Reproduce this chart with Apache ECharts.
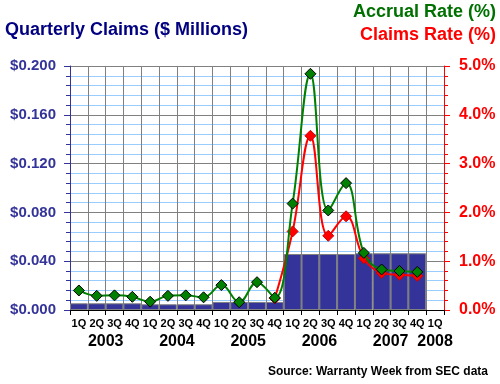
<!DOCTYPE html>
<html>
<head>
<meta charset="utf-8">
<script src="https://cdn.jsdelivr.net/npm/echarts@6/dist/echarts.min.js"></script>
<style>html,body{margin:0;padding:0;background:#fff}#c{width:500px;height:384px}</style>
</head>
<body>
<div id="c"></div>
<script>
const quarters = ['1Q','2Q','3Q','4Q','1Q','2Q','3Q','4Q','1Q','2Q','3Q','4Q','1Q','2Q','3Q','4Q','1Q','2Q','3Q','4Q','1Q'];
const years = ['2003','2003','2003','2003','2004','2004','2004','2004','2005','2005','2005','2005','2006','2006','2006','2006','2007','2007','2007','2007','2008'];
const claims = [0.0055,0.0055,0.0055,0.0055,0.0047,0.0047,0.0047,0.0047,0.0066,0.0066,0.0066,0.0066,0.0459,0.0459,0.0459,0.0459,0.0465,0.0465,0.0465,0.0465,null];
const accrualRate = [0.40,0.29,0.30,0.27,0.17,0.29,0.30,0.26,0.51,0.16,0.57,0.25,2.18,4.84,2.04,2.60,1.17,0.83,0.80,0.78,null];
const claimsRate = [null,null,null,null,null,null,null,null,null,null,null,0.24,1.61,3.57,1.52,1.92,1.06,0.76,0.72,0.70,null];
const leftTicks = {min:0, max:0.2, interval:0.04};
const rightTicks = {min:0, max:5, interval:1};

const cats = quarters.map((q,i)=>q+' '+years[i]);
const FONT = 'Arial, "Liberation Sans", sans-serif';
const chart = echarts.init(document.getElementById('c'), null, {renderer:'canvas'});
chart.setOption({
  animation:false,
  backgroundColor:'#fff',
  title:[
    {text:'Quarterly Claims ($ Millions)', left:5, top:21, padding:0, textStyle:{color:'#000080', fontSize:18, fontWeight:'bold', fontFamily:FONT}},
    {text:'Accrual Rate (%)', right:4, top:3, padding:0, textStyle:{color:'#007000', fontSize:18, fontWeight:'bold', fontFamily:FONT}},
    {text:'Claims Rate (%)', right:4, top:26, padding:0, textStyle:{color:'#ff0000', fontSize:18, fontWeight:'bold', fontFamily:FONT}},
    {text:'Source: Warranty Week from SEC data', right:12, top:366, padding:0, textStyle:{color:'#000', fontSize:12, fontWeight:'bold', fontFamily:FONT}}
  ],
  grid:{left:70, right:56, top:66, bottom:74, containLabel:false},
  xAxis:[
    {type:'category', data:cats, boundaryGap:true,
     axisLine:{show:true, lineStyle:{color:'#000', width:1}},
     axisTick:{show:true, length:5, lineStyle:{color:'#000'}},
     axisLabel:{interval:0, margin:8, color:'#000', fontSize:11, fontWeight:'bold', fontFamily:FONT,
       formatter:(v)=>v.split(' ')[0]},
     splitLine:{show:true, interval:0, lineStyle:{color:'#808080', width:1}}},
    {type:'category', data:cats, boundaryGap:true, position:'bottom',
     axisLine:{show:false}, axisTick:{show:false}, splitLine:{show:false},
     axisLabel:{interval:0, margin:24, color:'#000', fontSize:16, fontWeight:'bold', fontFamily:FONT,
       formatter:(v,i)=>{
         const y=v.split(' ')[1];
         if(i===cats.length-1) return '{n|'+y+'}';
         if(i%4===1) return '{s|'+y+'}';
         return '';
       },
       rich:{s:{padding:[0,0,0,18], fontSize:16, fontWeight:'bold', fontFamily:FONT, color:'#000'},
             n:{fontSize:16, fontWeight:'bold', fontFamily:FONT, color:'#000'}}}}
  ],
  yAxis:[
    {type:'value', min:leftTicks.min, max:leftTicks.max, interval:leftTicks.interval, position:'left',
     axisLine:{show:true, lineStyle:{color:'#333399'}},
     axisTick:{show:true, length:6, lineStyle:{color:'#333399'}},
     minorTick:{show:true, splitNumber:5, length:4, lineStyle:{color:'#333399'}},
     axisLabel:{margin:14, color:'#333399', fontSize:15, fontWeight:'bold', fontFamily:FONT,
       formatter:(v)=>'$'+v.toFixed(3)},
     splitLine:{show:true, lineStyle:{color:'#808080', width:1}},
     minorSplitLine:{show:true, lineStyle:{color:'#99ccff', width:1}}},
    {type:'value', min:rightTicks.min, max:rightTicks.max, interval:rightTicks.interval, position:'right',
     axisLine:{show:true, lineStyle:{color:'#ff0000'}},
     axisTick:{show:true, length:6, lineStyle:{color:'#ff0000'}},
     minorTick:{show:true, splitNumber:5, length:4, lineStyle:{color:'#ff0000'}},
     axisLabel:{margin:15, color:'#ff0000', fontSize:16, fontWeight:'bold', fontFamily:FONT,
       formatter:(v)=>v.toFixed(1)+'%'},
     splitLine:{show:false}}
  ],
  series:[
    {type:'bar', data:claims, xAxisIndex:0, yAxisIndex:0, barCategoryGap:'0%', barGap:'0%',
     itemStyle:{color:'#333399', borderColor:'#808080', borderWidth:1}, z:2},
    {type:'line', data:claimsRate, xAxisIndex:0, yAxisIndex:1, smooth:0.4, connectNulls:false,
     symbol:'diamond', symbolSize:11, showSymbol:true,
     lineStyle:{color:'#ff0000', width:2},
     itemStyle:{color:'#ff0000', borderColor:'#cc0000', borderWidth:1}, z:3},
    {type:'line', data:accrualRate, xAxisIndex:0, yAxisIndex:1, smooth:0.4,
     symbol:'diamond', symbolSize:11, showSymbol:true,
     lineStyle:{color:'#008000', width:2},
     itemStyle:{color:'#008000', borderColor:'#000', borderWidth:1}, z:4}
  ]
});
</script>
</body>
</html>
